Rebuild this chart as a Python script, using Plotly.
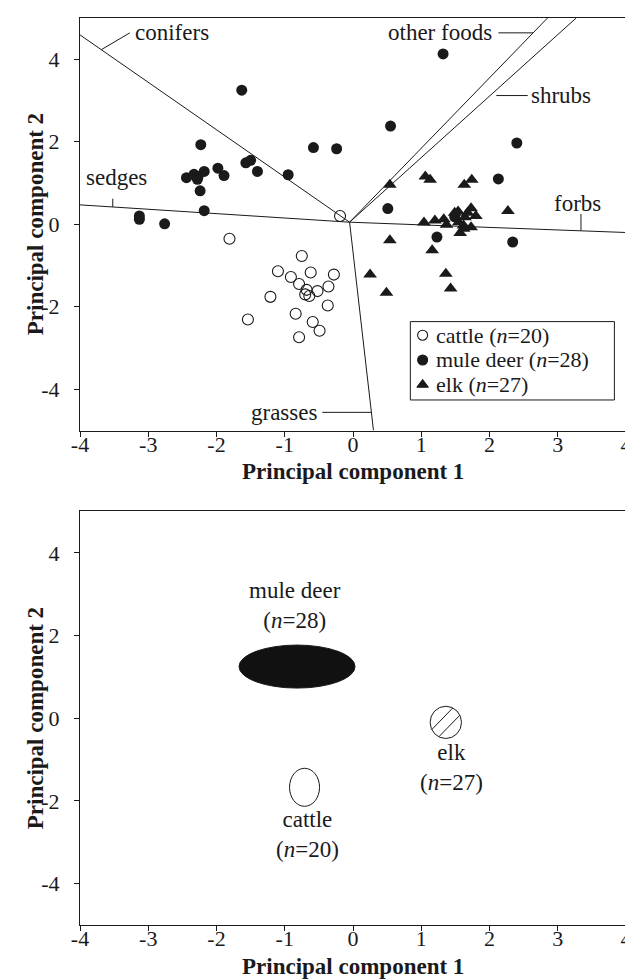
import numpy as np
import plotly.graph_objects as go

FONT = "Liberation Serif, Times New Roman, serif"
INK = "#1a1a1a"

# ---------------- top panel: PCA scores ----------------
cattle_x = [-0.19, -1.81, -0.75, -1.10, -0.62, -0.28, -0.91, -0.79, -0.36, -0.68,
            -0.52, -0.70, -0.64, -1.21, -0.37, -0.84, -1.54, -0.59, -0.49, -0.79]
cattle_y = [0.20, -0.35, -0.77, -1.14, -1.17, -1.22, -1.28, -1.45, -1.51, -1.59,
            -1.62, -1.70, -1.74, -1.76, -1.97, -2.17, -2.31, -2.37, -2.58, -2.74]

deer_x = [-1.63, -2.23, -0.58, -0.24, -1.57, -1.50, -1.40, -1.98, -1.89, -2.44,
          -2.33, -2.28, -2.18, -0.95, -2.24, -2.18, -3.13, -3.13, -2.76, 1.32,
          0.55, 2.40, 2.13, 0.51, 1.23, 2.34, 1.49, -2.27]
deer_y = [3.25, 1.93, 1.86, 1.83, 1.49, 1.55, 1.28, 1.36, 1.18, 1.13,
          1.21, 1.09, 1.28, 1.20, 0.81, 0.33, 0.20, 0.12, 0.01, 4.13,
          2.38, 1.97, 1.10, 0.38, -0.31, -0.43, 0.18, 1.16]

elk_x = [0.54, 1.06, 1.13, 1.63, 1.74, 2.27, 1.04, 1.20, 1.33, 1.37,
         1.49, 1.54, 1.64, 1.73, 1.80, 1.62, 1.57, 1.62, 1.73, 0.54,
         1.16, 0.25, 1.36, 0.49, 1.43, 1.55, 1.68]
elk_y = [0.96, 1.16, 1.08, 0.96, 1.08, 0.32, 0.04, 0.09, 0.12, -0.01,
         0.28, 0.31, 0.17, 0.39, 0.20, -0.03, -0.21, -0.11, -0.07, -0.39,
         -0.63, -1.22, -1.20, -1.66, -1.56, 0.05, 0.28]

# loading vectors (biplot)
load_origin = (-0.05, 0.05)
load_names = ["conifers", "other foods", "shrubs", "sedges", "forbs", "grasses"]
load_x = [-4.0, 2.85, 3.27, -4.0, 4.0, 0.30]
load_y = [4.59, 5.0, 5.0, 0.47, -0.20, -5.0]

# ---------------- bottom panel: group ellipses ----------------
grp_names = ["mule deer", "cattle", "elk"]
grp_n = [28, 20, 27]
grp_cx = [-0.82, -0.71, 1.36]
grp_cy = [1.25, -1.67, -0.10]
grp_rx = [0.85, 0.22, 0.23]
grp_ry = [0.52, 0.46, 0.39]

tick_x = [-4, -3, -2, -1, 0, 1, 2, 3, 4]
tick_y = [-4, -2, 0, 2, 4]


def lab(v):
    return ("-" + str(abs(v))) if v < 0 else str(v)


fig = go.Figure()

# loading vectors
for nm, lx, ly in zip(load_names, load_x, load_y):
    fig.add_trace(go.Scatter(x=[load_origin[0], lx], y=[load_origin[1], ly], mode="lines",
                             line=dict(color=INK, width=1), showlegend=False,
                             hoverinfo="skip", xaxis="x", yaxis="y"))

fig.add_trace(go.Scatter(x=cattle_x, y=cattle_y, mode="markers", name="cattle",
                         marker=dict(symbol="circle-open", size=11, color=INK, line=dict(width=1.1)),
                         showlegend=False, xaxis="x", yaxis="y"))
fig.add_trace(go.Scatter(x=deer_x, y=deer_y, mode="markers", name="mule deer",
                         marker=dict(symbol="circle", size=11, color=INK),
                         showlegend=False, xaxis="x", yaxis="y"))
fig.add_trace(go.Scatter(x=elk_x, y=elk_y, mode="markers", name="elk",
                         marker=dict(symbol="triangle-up", size=12, color=INK),
                         showlegend=False, xaxis="x", yaxis="y"))

# manual boxed legend
leg_y = [-2.69, -3.29, -3.89]
leg_sym = ["circle-open", "circle", "triangle-up"]
leg_txt = ["cattle (<i>n</i>=20)", "mule deer (<i>n</i>=28)", "elk (<i>n</i>=27)"]
fig.add_shape(type="rect", x0=0.84, x1=3.83, y0=-4.26, y1=-2.36, xref="x", yref="y",
              line=dict(color=INK, width=1), fillcolor="white", layer="below")
for yy, sy in zip(leg_y, leg_sym):
    fig.add_trace(go.Scatter(x=[1.02], y=[yy], mode="markers", showlegend=False, hoverinfo="skip",
                             marker=dict(symbol=sy, size=10, color=INK, line=dict(width=1.1, color=INK)),
                             xaxis="x", yaxis="y"))
annotations = []
for yy, tx in zip(leg_y, leg_txt):
    annotations.append(dict(x=1.19, y=yy, xref="x", yref="y", text=tx, showarrow=False,
                            xanchor="left", yanchor="middle", font=dict(family=FONT, size=22, color=INK)))

# loading labels + leader lines
lbl = [
    ("conifers", -3.22, 4.64, "left", (-3.69, 4.23, -3.27, 4.64)),
    ("other foods", 2.07, 4.64, "right", (2.13, 4.64, 2.64, 4.64)),
    ("shrubs", 2.58, 3.12, "left", (2.10, 3.12, 2.56, 3.12)),
    ("sedges", -3.47, 1.13, "center", (-3.52, 0.42, -3.52, 0.62)),
    ("forbs", 3.29, 0.50, "center", (3.34, -0.15, 3.34, 0.25)),
    ("grasses", -0.50, -4.56, "right", (-0.45, -4.56, 0.27, -4.56)),
]
for tx, x, y, xa, (a0, b0, a1, b1) in lbl:
    annotations.append(dict(x=x, y=y, xref="x", yref="y", text=tx, showarrow=False,
                            xanchor=xa, yanchor="middle", font=dict(family=FONT, size=23, color=INK)))
    fig.add_shape(type="line", x0=a0, y0=b0, x1=a1, y1=b1, xref="x", yref="y",
                  line=dict(color=INK, width=1))

# bottom panel ellipses
fills = ["#111111", "white", "white"]
for nm, n, cx, cy, rx, ry, fc in zip(grp_names, grp_n, grp_cx, grp_cy, grp_rx, grp_ry, fills):
    fig.add_shape(type="circle", x0=cx - rx, x1=cx + rx, y0=cy - ry, y1=cy + ry,
                  xref="x2", yref="y2", line=dict(color=INK, width=1), fillcolor=fc)

# hatch lines for elk ellipse (chords at 45 deg in normalised ellipse coords)
i = 2
for c in (-0.45, 0.45):
    disc = np.sqrt(2 - c * c)
    u0, u1 = (-c - disc) / 2, (-c + disc) / 2
    fig.add_shape(type="line", xref="x2", yref="y2",
                  x0=grp_cx[i] + grp_rx[i] * u0, y0=grp_cy[i] + grp_ry[i] * (u0 + c),
                  x1=grp_cx[i] + grp_rx[i] * u1, y1=grp_cy[i] + grp_ry[i] * (u1 + c),
                  line=dict(color=INK, width=1))

grp_lab_x = [-0.85, -0.67, 1.45]
grp_lab_y = [2.72, -2.81, -1.20]
for nm, n, lx, ly in zip(grp_names, grp_n, grp_lab_x, grp_lab_y):
    annotations.append(dict(x=lx, y=ly, xref="x2", yref="y2",
                            text=f"{nm}<br>(<i>n</i>={n})", showarrow=False,
                            xanchor="center", yanchor="middle",
                            font=dict(family=FONT, size=23, color=INK)))

fig.add_trace(go.Scatter(x=[None], y=[None], xaxis="x2", yaxis="y2", showlegend=False))

# axis titles
title_font = dict(family=FONT, size=23, color=INK)
top_dom = [0.5452, 1.0]
bot_dom = [0.0, 0.4559]
for dom in (top_dom, bot_dom):
    annotations.append(dict(x=0.5, y=dom[0], xref="paper", yref="paper", yshift=-41,
                            text="<b>Principal component 1</b>", showarrow=False,
                            xanchor="center", yanchor="middle", font=title_font))
    annotations.append(dict(x=0, y=(dom[0] + dom[1]) / 2, xref="paper", yref="paper", xshift=-45,
                            text="<b>Principal component 2</b>", showarrow=False, textangle=-90,
                            xanchor="center", yanchor="middle", font=title_font))

axis_common = dict(showline=True, linecolor=INK, linewidth=1, mirror=True, ticks="outside",
                   ticklen=5, tickwidth=1, tickcolor=INK, showgrid=False, zeroline=False,
                   tickfont=dict(family=FONT, size=22, color=INK))
xa = dict(axis_common, domain=[0, 1], range=[-4, 4], tickvals=tick_x,
          ticktext=[lab(v) for v in tick_x], ticklabelstandoff=-11)
ya = dict(axis_common, range=[-5, 5], tickvals=tick_y,
          ticktext=[lab(v) for v in tick_y], ticklabelstandoff=10)

fig.update_layout(
    width=633, height=979, plot_bgcolor="white", paper_bgcolor="white",
    margin=dict(l=72, r=13, t=9, b=62),
    showlegend=False,
    xaxis=dict(xa, anchor="y"),
    yaxis=dict(ya, domain=top_dom, anchor="x"),
    xaxis2=dict(xa, anchor="y2"),
    yaxis2=dict(ya, domain=bot_dom, anchor="x2"),
    annotations=annotations,
)

fig.write_html("out.html")
